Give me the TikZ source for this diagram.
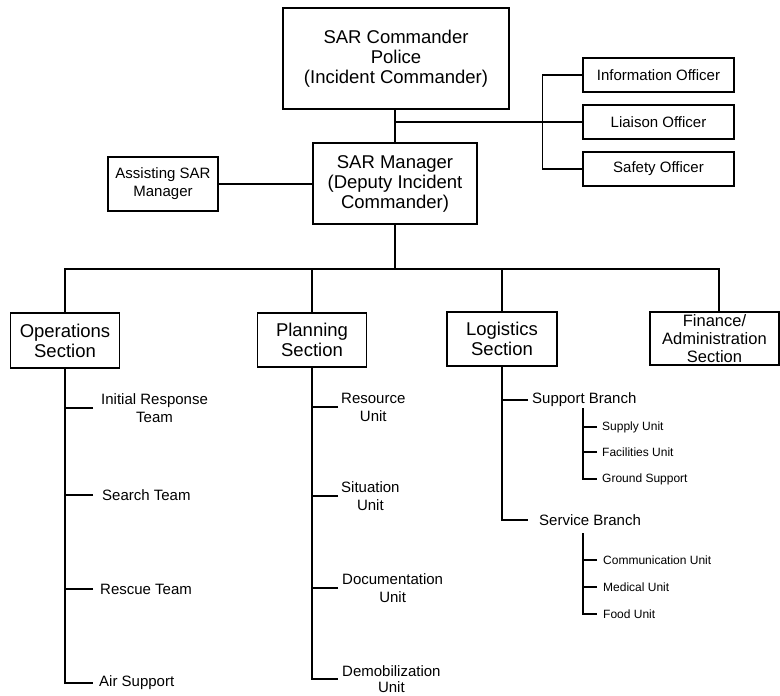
\documentclass[tikz,border=0pt]{standalone}
\usepackage{fontspec}
\setmainfont{Liberation Sans}
\begin{document}
\begin{tikzpicture}[x=1pt,y=-1pt,
  box/.style={draw,line width=1.6pt,inner sep=0pt,align=center},
  big/.style={font=\fontsize{18.5}{20}\selectfont},
  fin/.style={font=\fontsize{16.5}{18}\selectfont},
  mid/.style={font=\fontsize{15}{18}\selectfont},
  sml/.style={font=\fontsize{12}{14}\selectfont},
  lbl/.style={anchor=west,inner ysep=0pt,align=center},
  ln/.style={line width=1.4pt},
  thin/.style={line width=1.1pt}]
\useasboundingbox (0,0) rectangle (780,696);

% boxes
\node[box,big,minimum width=226,minimum height=101] (cmd) at (396,58.5) {SAR Commander\\Police\\(Incident Commander)};
\node[box,big,minimum width=164,minimum height=81] (mgr) at (395,183.5) {SAR Manager\\(Deputy Incident\\Commander)};
\node[box,mid,minimum width=110,minimum height=54] (asst) at (163,184) {Assisting SAR\\Manager};
\node[box,mid,minimum width=151,minimum height=34] (info) at (658.5,75) {Information Officer};
\node[box,mid,minimum width=151,minimum height=34] (liai) at (658.5,122) {Liaison Officer};
\node[box,mid,minimum width=151,minimum height=34] (safe) at (658.5,169) {Safety Officer};
\node[box,big,minimum width=109,minimum height=55] (ops) at (65,340.5) {Operations\\Section};
\node[box,big,minimum width=109,minimum height=54] (plan) at (312,340) {Planning\\Section};
\node[box,big,minimum width=110,minimum height=54] (log) at (502,339) {Logistics\\Section};
\node[box,fin,minimum width=129,minimum height=53] (fin) at (714.5,338.5) {Finance/\\Administration\\Section};

% top connectors
\coordinate (j1) at (395,122);
\draw[ln] (cmd.south -| mgr.north) -- (mgr.north);
\draw[ln] (j1) -- (liai.west);
\draw[ln] (info.west) -- ++(-40,0) |- (safe.west);
\draw[ln] (asst.east) -- (asst.east -| mgr.west);

% bus
\coordinate (bus) at (395,269);
\coordinate (fintop) at (719,312);
\draw[ln] (mgr.south) -- (bus);
\draw[ln] (ops.north) -- (ops.north |- bus) -- (fintop |- bus) -- (fintop);
\draw[ln] (plan.north) -- (plan.north |- bus);
\draw[ln] (log.north) -- (log.north |- bus);

% operations subtree
\node[lbl,mid,inner xsep=8pt] (ir) at (93,408) {Initial Response\\Team};
\node[lbl,mid,inner xsep=9pt] (st) at (93,495) {Search Team};
\node[lbl,mid,inner xsep=7pt] (rt) at (93,589) {Rescue Team};
\node[lbl,mid,inner xsep=6pt] (as) at (93,683) {Air Support};
\draw[ln] (ops.south) |- (as.west);
\draw[thin] (ir.west) -- (ir.west -| ops.south);
\draw[thin] (st.west) -- (st.west -| ops.south);
\draw[thin] (rt.west) -- (rt.west -| ops.south);

% planning subtree
\node[lbl,mid,inner xsep=3pt] (ru) at (338,407) {Resource\\Unit};
\node[lbl,mid,inner xsep=3pt] (su) at (338,496) {Situation\\Unit};
\node[lbl,mid,inner xsep=4pt] (du) at (338,588) {Documentation\\Unit};
\node[lbl,inner xsep=4pt,font=\fontsize{15}{15.5}\selectfont] (dm) at (338,679) {Demobilization\\Unit};
\draw[ln] (plan.south) |- (dm.west);
\draw[thin] (ru.west) -- (ru.west -| plan.south);
\draw[thin] (su.west) -- (su.west -| plan.south);
\draw[thin] (du.west) -- (du.west -| plan.south);

% logistics subtree
\node[lbl,mid,inner xsep=4pt] (sb) at (528,400) {Support Branch};
\node[lbl,mid,inner xsep=11pt] (vb) at (528,520) {Service Branch};
\draw[ln] (log.south) |- (vb.west);
\draw[ln] (sb.west) -- (sb.west -| log.south);

\coordinate (sbtop) at (583,408);
\node[lbl,sml,inner xsep=5pt] (sup) at (597,427) {Supply Unit};
\node[lbl,sml,inner xsep=5pt] (fac) at (597,452) {Facilities Unit};
\node[lbl,sml,inner xsep=5pt] (gs) at (597,479) {Ground Support};
\draw[thin] (sbtop) |- (gs.west);
\draw[thin] (sup.west) -- (sup.west -| sbtop);
\draw[thin] (fac.west) -- (fac.west -| sbtop);

\coordinate (vbtop) at (583,533);
\node[lbl,sml,inner xsep=6pt] (com) at (597,560) {Communication Unit};
\node[lbl,sml,inner xsep=6pt] (med) at (597,587) {Medical Unit};
\node[lbl,sml,inner xsep=6pt] (food) at (597,614) {Food Unit};
\draw[thin] (vbtop) |- (food.west);
\draw[thin] (com.west) -- (com.west -| vbtop);
\draw[thin] (med.west) -- (med.west -| vbtop);
\end{tikzpicture}
\end{document}
